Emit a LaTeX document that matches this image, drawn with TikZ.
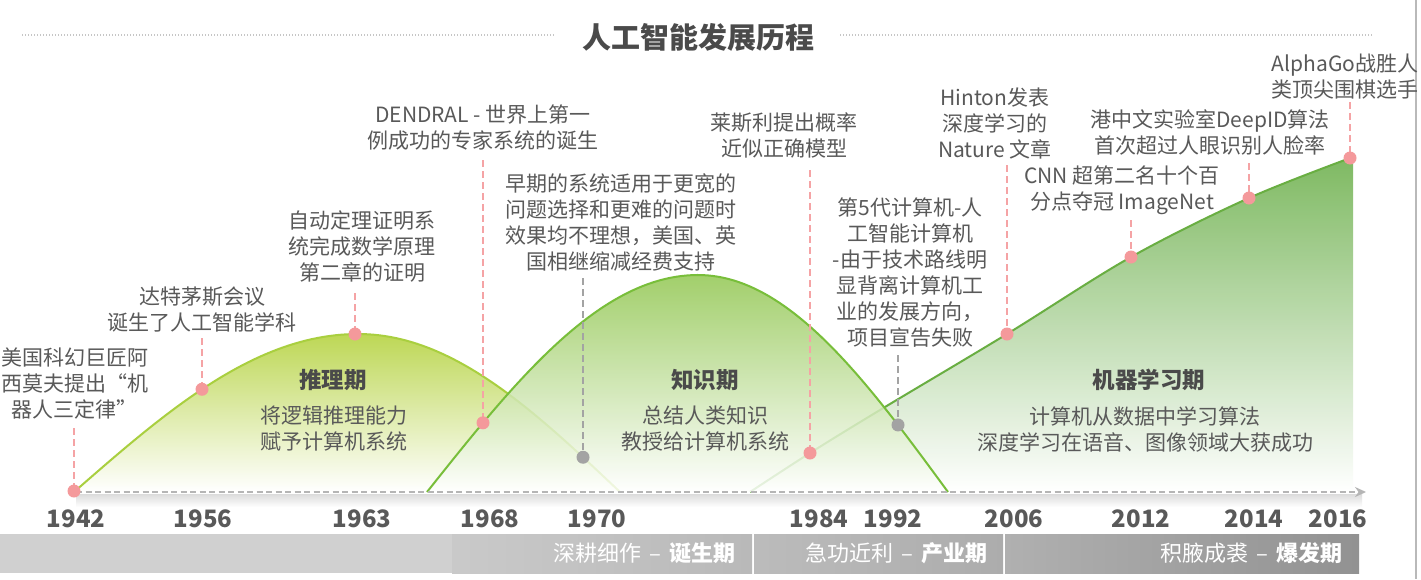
\documentclass[tikz,border=0pt]{standalone}
\usepackage{fontspec}
\setmainfont{Noto Sans CJK SC}
\usetikzlibrary{arrows.meta}
\definecolor{txtgray}{HTML}{595959}
\definecolor{hdgray}{HTML}{4A4A4A}
\definecolor{pinkdot}{HTML}{F4999B}
\definecolor{pinkline}{HTML}{F5A3A5}
\definecolor{graydot}{HTML}{A3A3A3}
\definecolor{c1line}{HTML}{A9CF3F}
\definecolor{c1fill}{HTML}{BDD755}
\definecolor{c2line}{HTML}{78BE3A}
\definecolor{c2fill}{HTML}{92C752}
\definecolor{c3line}{HTML}{69AE42}
\definecolor{c3fill}{HTML}{78B65A}
\definecolor{axisgray}{HTML}{B5B5B5}
\tikzset{
  txt/.style={align=center, text=txtgray, inner sep=0pt, font=\fontsize{21}{26}\selectfont},
  periodhead/.style={text=hdgray, inner sep=0pt, font=\fontsize{22.5}{26}\selectfont\bfseries},
  yearlbl/.style={text=txtgray, inner sep=0pt, font=\fontsize{24}{26}\selectfont\bfseries},
  barlbl/.style={text=white, inner sep=0pt, anchor=east, font=\fontsize{22}{26}\selectfont},
  titlelbl/.style={text=hdgray, inner sep=0pt, font=\fontsize{29}{34}\selectfont\bfseries},
  pdot/.style={circle, fill=pinkdot, minimum size=13pt, inner sep=0pt},
  gdot/.style={circle, fill=graydot, minimum size=13pt, inner sep=0pt},
  pleader/.style={draw=pinkline, line width=2.4pt, dash pattern=on 7pt off 4pt},
  gleader/.style={draw=graydot, line width=2.4pt, dash pattern=on 7pt off 4pt},
  titledots/.style={draw=gray!45, line width=1.3pt, dash pattern=on 1pt off 2pt},
}
\newcommand{\bardash}{\hspace{8pt}–\hspace{9pt}}
\begin{document}
\begin{tikzpicture}[x=1pt,y=-1pt]
\useasboundingbox (0,0) rectangle (1421,579);
\fill[white] (0,0) rectangle (1421,579);

% title
\draw[titledots] (22,35) -- (555,35);
\draw[titledots] (840,35) -- (1372,35);
\node[titlelbl] (title) at (698,37) {人工智能发展历程};

% right border
\draw[gray!55, line width=2.5pt] (1416,0) -- (1416,579);

% curve 1 (推理期)
\shade[top color=c1fill, middle color=c1fill!55, bottom color=white]
  (74,492) -- plot[domain=74:358,samples=50] (\x,{492-158*sin((\x-74)/284*90)})
  -- plot[domain=358:620,samples=50] (\x,{492-158*sin((620-\x)/262*90)}) -- cycle;
\draw[c1line, line width=2pt]
  plot[domain=74:358,samples=50] (\x,{492-158*sin((\x-74)/284*90)})
  -- plot[domain=358:620,samples=50] (\x,{492-158*sin((620-\x)/262*90)});

% curve 3 (机器学习期)
\shade[top color=c3fill, middle color=c3fill!60, bottom color=white, fill opacity=0.95]
  (750,492) -- plot[smooth,tension=0.55] coordinates {(750,492) (810,453) (880,410) (1007,334) (1131,257) (1249,198) (1353,157)}
  -- (1353,492) -- cycle;
\draw[c3line, line width=2pt]
  plot[smooth,tension=0.55] coordinates {(750,492) (810,453) (880,410) (1007,334) (1131,257) (1249,198) (1353,157)};

% curve 2 (知识期)
\shade[top color=c2fill, middle color=c2fill!58, bottom color=white, fill opacity=0.85]
  (427,492) -- plot[domain=427:698,samples=50] (\x,{492-217*sin((\x-427)/271*90)})
  -- plot[domain=698:948,samples=50] (\x,{492-217*sin((948-\x)/250*90)}) -- cycle;
\draw[c2line, line width=2pt]
  plot[domain=427:698,samples=50] (\x,{492-217*sin((\x-427)/271*90)})
  -- plot[domain=698:948,samples=50] (\x,{492-217*sin((948-\x)/250*90)});

% axis with shadow
\shade[top color=black!14, bottom color=white] (76,494) rectangle (1362,507);
\draw[axisgray, line width=2pt, dash pattern=on 6pt off 3.5pt, -{Stealth[length=11pt,width=10pt]}] (76,492) -- (1366,492);

% period labels
\node[periodhead] (p1) at (333,380) {推理期};
\node[txt] (p1t) at (334,429) {将逻辑推理能力\\赋予计算机系统};
\node[periodhead] (p2) at (705,380) {知识期};
\node[txt] (p2t) at (705,429) {总结人类知识\\教授给计算机系统};
\node[periodhead] (p3) at (1149,380) {机器学习期};
\node[txt] (p3t) at (1145,429) {计算机从数据中学习算法\\深度学习在语音、图像领域大获成功};

% leader top ends
\coordinate (l1942) at (74,428);
\coordinate (l1956) at (202,338);
\coordinate (l1963) at (355,293);
\coordinate (l1968) at (483,160);
\coordinate (l1970) at (583,278);
\coordinate (l1984) at (810,170);
\coordinate (l1992) at (898,355);
\coordinate (l2006) at (1007,165);
\coordinate (l2012) at (1131,220);
\coordinate (l2014) at (1249,163);
\coordinate (l2016) at (1350,102);

% dots
\coordinate (c1942) at (74,491);
\coordinate (c1956) at (202,{492-158*sin(128/284*90)});
\coordinate (c1963) at (355,{492-158*sin(281/284*90)});
\coordinate (c1968) at (483,{492-217*sin(56/271*90)});
\coordinate (c1970) at (583,{492-158*sin(37/262*90)});
\coordinate (c1984) at (810,453);
\coordinate (c1992) at (898,{492-217*sin(50/250*90)});
\coordinate (c2006) at (1007,334);
\coordinate (c2012) at (1131,257);
\coordinate (c2014) at (1249,198);
\coordinate (c2016) at (1350,158);

\foreach \y in {1942,1956,1963,1968,1984,2006,2012,2014,2016}{
  \draw[pleader] (l\y) -- (c\y);
}
\draw[gleader] (l1970) -- (c1970);
\draw[gleader] (l1992) -- (c1992);

\foreach \y in {1942,1956,1963,1968,1984,2006,2012,2014,2016}{
  \node[pdot] (d\y) at (c\y) {};
}
\node[gdot] (d1970) at (c1970) {};
\node[gdot] (d1992) at (c1992) {};

% event texts
\node[txt] (t1942) at (75,384) {美国科幻巨匠阿\\西莫夫提出“机\\器人三定律”};
\node[txt] (t1956) at (202,310) {达特茅斯会议\\诞生了人工智能学科};
\node[txt] (t1963) at (362,247) {自动定理证明系\\统完成数学原理\\第二章的证明};
\node[txt] (t1968) at (483,128) {DENDRAL - 世界上第一\\例成功的专家系统的诞生};
\node[txt] (t1970) at (621,222) {早期的系统适用于更宽的\\问题选择和更难的问题时\\效果均不理想，美国、英\\国相继缩减经费支持};
\node[txt] (t1984) at (784,135) {莱斯利提出概率\\近似正确模型};
\node[txt] (t1992) at (910,273) {第5代计算机-人\\工智能计算机\\-由于技术路线明\\显背离计算机工\\业的发展方向，\\项目宣告失败};
\node[txt] (t2006) at (995,123) {Hinton发表\\深度学习的\\Nature 文章};
\node[txt] (t2012) at (1122,190) {CNN 超第二名十个百\\分点夺冠 ImageNet};
\node[txt] (t2014) at (1210,132) {港中文实验室DeepID算法\\首次超过人眼识别人脸率};
\node[txt] (t2016) at (1345,77) {AlphaGo战胜人\\类顶尖围棋选手};

% years
\node[yearlbl] (y1942) at (76,519) {1942};
\node[yearlbl] (y1956) at (203,519) {1956};
\node[yearlbl] (y1963) at (362,519) {1963};
\node[yearlbl] (y1968) at (490,519) {1968};
\node[yearlbl] (y1970) at (597,519) {1970};
\node[yearlbl] (y1984) at (819,519) {1984};
\node[yearlbl] (y1992) at (893,519) {1992};
\node[yearlbl] (y2006) at (1014,519) {2006};
\node[yearlbl] (y2012) at (1141,519) {2012};
\node[yearlbl] (y2014) at (1254,519) {2014};
\node[yearlbl] (y2016) at (1338,519) {2016};

% bottom bar
\fill[gray!37] (0,534) rectangle (452,573);
\shade[left color=gray!42, right color=gray!55] (452,534) rectangle (752,573);
\shade[left color=gray!53, right color=gray!65] (754,534) rectangle (1003,573);
\shade[left color=gray!62, right color=gray!93!black!80] (1005,534) rectangle (1359,573);
\node[barlbl] (b1) at (736,553) {深耕细作\bardash\textbf{诞生期}};
\node[barlbl] (b2) at (988,553) {急功近利\bardash\textbf{产业期}};
\node[barlbl] (b3) at (1343,553) {积腋成裘\bardash\textbf{爆发期}};
\end{tikzpicture}
\end{document}
